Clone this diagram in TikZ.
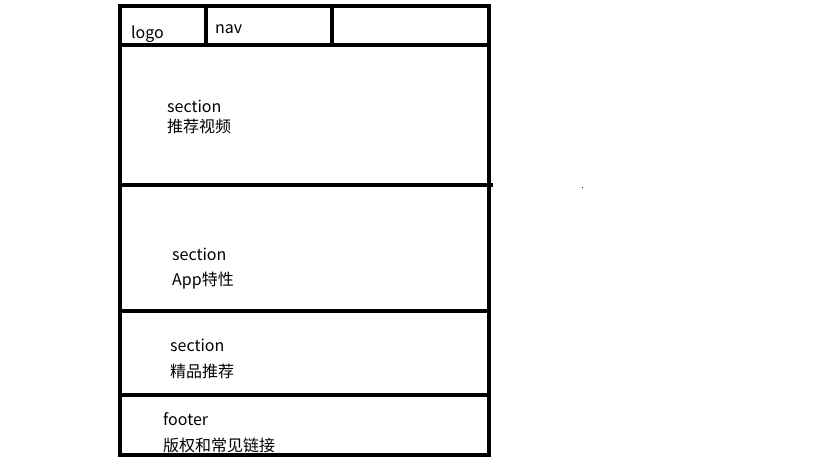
\documentclass[tikz,border=0pt]{standalone}
\usepackage{fontspec}
\setmainfont{Noto Sans CJK SC}
\begin{document}
\begin{tikzpicture}[x=1pt,y=-1pt,
  frame/.style={line width=4.5pt,line cap=rect},
  lbl/.style={anchor=west,inner sep=0pt,font=\fontsize{16}{18}\selectfont}]
\useasboundingbox (0,0) rectangle (819,460);
\draw[frame] (120,6) rectangle (489,455);
\draw[frame] (120,45) -- (489,45);
\draw[frame] (120,185) -- (491,185);
\draw[frame] (120,311) -- (489,311);
\draw[frame] (120,395) -- (489,395);
\draw[frame] (206,6) -- (206,45);
\draw[frame] (332,6) -- (332,45);
\fill (581.5,186.5) rectangle (582.5,187.5);
\node[lbl] (logo) at (131,34) {logo};
\node[lbl] (nav) at (215,29) {nav};
\node[lbl] (s1) at (167,106) {section};
\node[lbl] (s1b) at (167,126) {推荐视频};
\node[lbl] (s2) at (172,254) {section};
\node[lbl] (s2b) at (172,281) {App特性};
\node[lbl] (s3) at (170,345) {section};
\node[lbl] (s3b) at (170,371) {精品推荐};
\node[lbl] (f) at (163,419) {footer};
\node[lbl] (fb) at (163,445) {版权和常见链接};
\end{tikzpicture}
\end{document}
